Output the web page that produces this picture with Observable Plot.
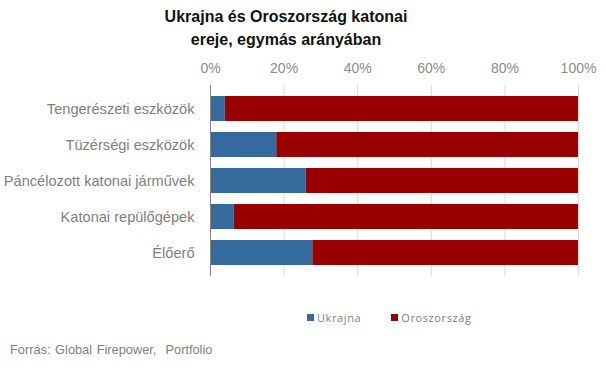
<!DOCTYPE html>
<html>
<head>
<meta charset="utf-8">
<script src="https://cdn.jsdelivr.net/npm/d3@7"></script>
<script src="https://cdn.jsdelivr.net/npm/@observablehq/plot@0.6"></script>
<style>
  html, body { margin: 0; padding: 0; background: #fff; }
  #wrap { position: relative; width: 606px; height: 379px; font-family: "Liberation Sans", Arial, sans-serif; }
  #title { position: absolute; left: 0; width: 572px; top: 5px; text-align: center; font-weight: bold; font-size: 16px; line-height: 23px; color: #111; }
  #chart { position: absolute; left: 0; top: 0; }
  #legend { position: absolute; top: 310px; left: 307px; font-family: "Open Sans", sans-serif; font-size: 11px; color: #7f7f7f; letter-spacing: 0.6px; display: flex; align-items: center; }
  #legend .sw { display: inline-block; width: 7px; height: 7px; margin-right: 3px; }
  #legend .item { display: flex; align-items: center; margin-right: 30px; }
  #source { position: absolute; left: 10px; top: 342px; font-size: 12.8px; color: #7f7f7f; word-spacing: 1px; }
</style>
</head>
<body>
<div id="wrap">
  <div id="chart"></div>
  <div id="title">Ukrajna és Oroszország katonai<br>ereje, egymás arányában</div>
  <div id="legend"></div>
  <div id="source">Forrás: Global Firepower,&nbsp; Portfolio</div>
</div>
<script>
const categories = ["Tengerészeti eszközök", "Tüzérségi eszközök", "Páncélozott katonai járművek", "Katonai repülőgépek", "Élőerő"];
const series = ["Ukrajna", "Oroszország"];
const ukrajna = [4, 18, 26, 6.4, 27.8];
const oroszorszag = [96, 82, 74, 93.6, 72.2];
const xTicks = [0, 20, 40, 60, 80, 100];
const colors = ["#356b9c", "#990000"];

const data = [];
categories.forEach((c, i) => {
  data.push({category: c, series: series[0], value: ukrajna[i]});
  data.push({category: c, series: series[1], value: oroszorszag[i]});
});

const chart = Plot.plot({
  width: 606,
  height: 290,
  marginTop: 85,
  marginBottom: 14,
  marginLeft: 210,
  marginRight: 28,
  style: {fontFamily: "Liberation Sans, Arial, sans-serif", fontSize: "13px", color: "#7f7f7f", background: "transparent"},
  x: {domain: [0, 100], axis: null},
  y: {domain: categories, padding: 0.3, axis: null},
  color: {domain: series, range: colors},
  marks: [
    Plot.ruleX(xTicks.slice(1), {stroke: "#d9d9d9", strokeWidth: 1}),
    Plot.barX(data, Plot.stackX({x: "value", y: "category", fill: "series", order: series})),
    Plot.ruleX([0], {stroke: "#868686", strokeWidth: 1}),
    Plot.axisX(xTicks, {anchor: "top", tickSize: 0, tickPadding: 13, tickFormat: d => d + "%", fill: "#8c8c8c", fontSize: 14, label: null}),
    Plot.axisY({anchor: "left", tickSize: 0, tickPadding: 16, fill: "#7f7f7f", fontSize: 14.6, label: null})
  ]
});
document.getElementById("chart").appendChild(chart);

const legend = document.getElementById("legend");
series.forEach((s, i) => {
  const item = document.createElement("span");
  item.className = "item";
  const sw = document.createElement("span");
  sw.className = "sw";
  sw.style.background = colors[i];
  item.appendChild(sw);
  item.appendChild(document.createTextNode(s));
  legend.appendChild(item);
});
</script>
</body>
</html>
